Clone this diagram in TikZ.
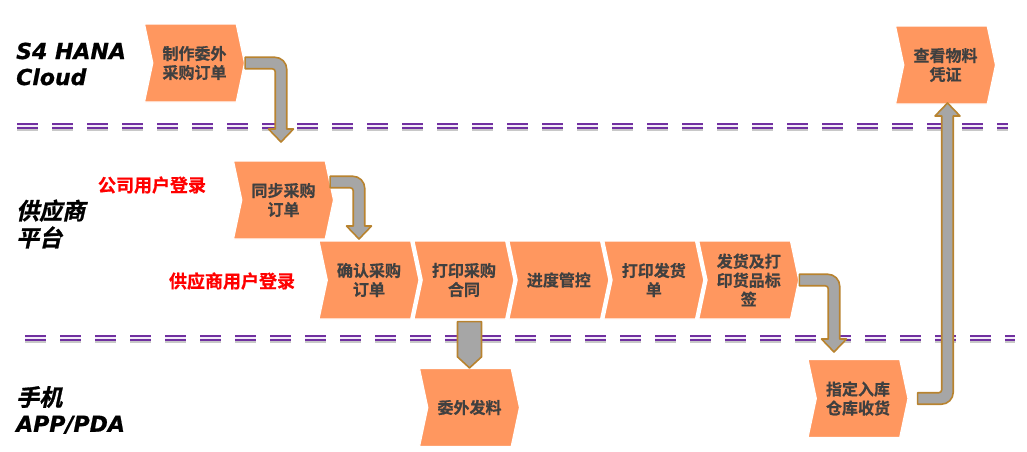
\documentclass[tikz,border=0pt]{standalone}
\usepackage{fontspec}
\setmainfont{DejaVu Sans}
\newfontfamily\cjk{Noto Sans CJK SC Bold}[FakeBold=0.6]
\newfontfamily\cjklane{Noto Sans CJK SC Bold}[FakeSlant=0.22,FakeBold=1.2]
\newfontfamily\lanefont{DejaVu Sans Bold Oblique}[FakeBold=0.8]
\usetikzlibrary{shapes.symbols,positioning,calc}
\definecolor{procorange}{HTML}{FF975F}
\definecolor{textgrey}{HTML}{404040}
\definecolor{loginred}{HTML}{FF0000}
\definecolor{arrowgrey}{HTML}{A6A6A6}
\definecolor{arrowbrown}{HTML}{B8832F}
\definecolor{lanepurple}{HTML}{7030A0}
\definecolor{lanelilac}{HTML}{F2ECF8}
\definecolor{shadowgrey}{HTML}{C8C8C8}
\tikzset{
  proc/.style={
    signal, signal from=west, signal to=east, signal pointer angle=156,
    minimum width=100pt, minimum height=78pt, inner sep=0pt,
    fill=procorange, draw=white, line width=1.2pt, align=center,
    text=textgrey, font=\cjk\fontsize{16}{19}\selectfont
  },
  lane/.style={anchor=west, inner sep=0pt, align=left, text=black,
    font=\lanefont\fontsize{22}{26}\selectfont},
  lanecjk/.style={lane, font=\cjklane\fontsize{23}{27}\selectfont},
  login/.style={inner sep=0pt, text=loginred,
    font=\cjk\fontsize{18}{22}\selectfont},
  bigarrow/.style={draw=arrowbrown, fill=arrowgrey, line width=1.6pt, line join=round},
  lanesep/.style={draw=lanepurple, double=lanelilac, double distance=1.6pt,
    line width=1.8pt, dash pattern=on 21pt off 14pt},
  laneshadow/.style={draw=shadowgrey, line width=2.2pt, dash pattern=on 21pt off 14pt}
}
\newcommand{\swimline}[3]{
  \draw[laneshadow] (#1,#3+4) -- (#2,#3+4);
  \draw[lanesep] (#1,#3) -- (#2,#3);
}
\newcommand{\elbowdown}[2]{
  \draw[bigarrow] let \p1=(#1), \p2=(#2) in
    (\x1,\y1+5.75) -- (\x2-6.25,\y1+5.75)
    arc[start angle=90, end angle=0, radius=12pt]
    -- (\x2+5.75,\y2+13) -- (\x2+12.5,\y2+13) -- (\x2,\y2)
    -- (\x2-12.5,\y2+13) -- (\x2-5.75,\y2+13) -- (\x2-5.75,\y1-8.75)
    arc[start angle=0, end angle=90, radius=3pt]
    -- (\x1,\y1-5.75) -- cycle;
}
\newcommand{\elbowup}[2]{
  \draw[bigarrow] let \p1=(#1), \p2=(#2) in
    (\x1,\y1+5.75) -- (\x2-8.75,\y1+5.75)
    arc[start angle=-90, end angle=0, radius=3pt]
    -- (\x2-5.75,\y2-13) -- (\x2-12.5,\y2-13) -- (\x2,\y2)
    -- (\x2+12.5,\y2-13) -- (\x2+5.75,\y2-13) -- (\x2+5.75,\y1+6.25)
    arc[start angle=0, end angle=-90, radius=12pt]
    -- (\x1,\y1-5.75) -- cycle;
}
\newcommand{\dropdown}[2]{
  \draw[bigarrow] let \p1=(#1), \p2=(#2) in
    (\x2-12,\y1-2) -- (\x2+12,\y1-2) -- (\x2+12,\y2+11) -- (\x2,\y2)
    -- (\x2-12,\y2+11) -- cycle;
}

\begin{document}
\begin{tikzpicture}[x=1pt, y=-1pt, node distance=2pt]
\useasboundingbox (0,0) rectangle (1027,451);
\node[lane] (s4) at (16,64) {S4 HANA\\Cloud};
\node[lanecjk] (supplier) at (16,224) {供应商\\平台};
\node[lane] (mobile) at (16,410) {{\cjklane\fontsize{23}{26}\selectfont 手机}\\APP/PDA};
\node[login] (corplogin) at (152,185) {公司用户登录};
\node[login] (vendorlogin) at (232,281) {供应商用户登录};
\swimline{17}{1008}{126}
\swimline{25}{1015}{338}
\node[proc] (make) at (194.5,63) {制作委外\\采购订单};
\node[proc] (view) at (945.5,65) {查看物料\\凭证};
\node[proc] (sync) at (283.5,200) {同步采购\\订单};
\node[proc] (confirm) at (369,280) {确认采购\\订单};
\node[proc, right=of confirm] (print) {打印采购\\合同};
\node[proc, right=of print] (track) {进度管控};
\node[proc, right=of track] (invoice) {打印发货\\单};
\node[proc, right=of invoice] (label) {发货及打\\印货品标\\签};
\node[proc] (ship) at (469.5,407.5) {委外发料};
\node[proc] (store) at (858,398.5) {指定入库\\仓库收货};
\coordinate (tipA) at (281,142);
\coordinate (tipB) at (359,239);
\coordinate (tipD) at (834,352);
\coordinate (tipE) at (947.5,103);
\elbowdown{make.east}{tipA}
\elbowdown{$(sync.east)+(-4,-18)$}{tipB}
\dropdown{print.south}{ship.north}
\elbowdown{label.east}{tipD}
\elbowup{$(store.east)+(9,0)$}{tipE}
\end{tikzpicture}
\end{document}
